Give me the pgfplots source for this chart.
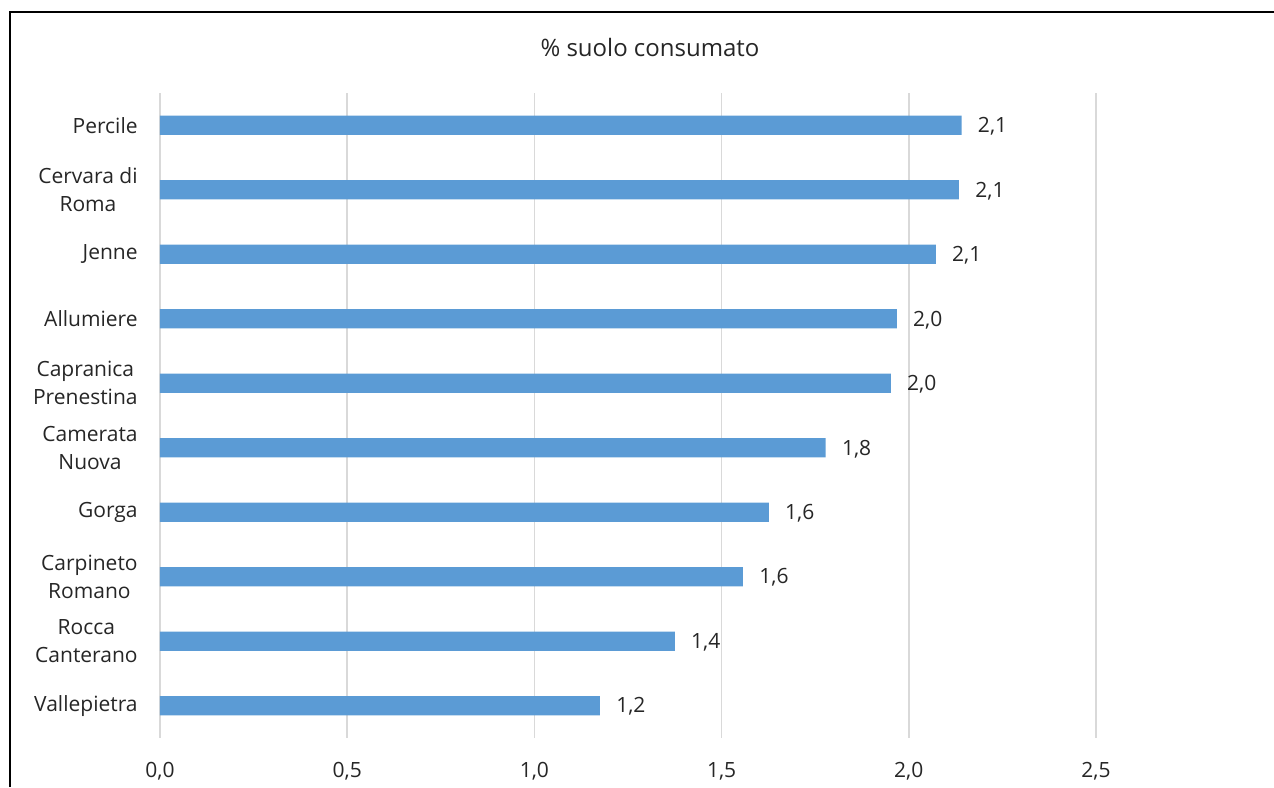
\documentclass[border=0pt]{standalone}
\usepackage{pgfplots}
\pgfplotsset{compat=1.18}
\usepackage{fontspec}
\setmainfont{Open Sans}
\definecolor{barblue}{HTML}{5B9BD5}
\definecolor{gridgray}{HTML}{D9D9D9}
\definecolor{txt}{HTML}{262626}
\begin{document}
\begin{tikzpicture}
\path[use as bounding box] (0,0) rectangle (637pt,393.5pt);
\draw[black, line width=0.7pt] (5pt,0) -- (5pt,387.5pt) -- (640pt,387.5pt);
\node[font=\fontsize{12}{14}\selectfont, text=txt] at (325pt,369.5pt) {\% suolo consumato};
\begin{axis}[
  at={(80pt,24.5pt)}, anchor=south west,
  scale only axis, width=468pt, height=322.5pt,
  xbar, bar width=0.3,
  xmin=0, xmax=2.5, ymin=-0.5, ymax=9.5,
  axis line style={draw=none},
  major tick length=0pt,
  xmajorgrids, grid style={gridgray, line width=0.75pt},
  xtick={0,0.5,1,1.5,2,2.5},
  xticklabels={{0,0},{0,5},{1,0},{1,5},{2,0},{2,5}},
  ytick={0,...,9},
  yticklabels={Vallepietra,{Rocca\\Canterano},{Carpineto\\Romano},Gorga,{Camerata\\Nuova},{Capranica\\Prenestina},Allumiere,Jenne,{Cervara di\\Roma},Percile},
  ticklabel style={font=\fontsize{10.5}{14}\selectfont, text=txt},
  xticklabel style={anchor=center, yshift=-16.5pt},
  yticklabel style={anchor=east, align=center, inner sep=0pt, xshift=-11pt},
  point meta=x,
  nodes near coords={\pgfmathprintnumber[fixed,fixed zerofill,precision=1,use comma,assume math mode=true]{\pgfplotspointmeta}},
  every node near coord/.append style={anchor=west, inner sep=0pt, xshift=8pt, yshift=-0.5pt, font=\fontsize{10.5}{12}\selectfont, text=txt},
  clip=false,
]
\addplot[fill=barblue, draw=none] coordinates {
  (1.175,0) (1.375,1) (1.557,2) (1.626,3) (1.778,4)
  (1.952,5) (1.968,6) (2.072,7) (2.134,8) (2.141,9)
};
\end{axis}
\end{tikzpicture}
\end{document}
